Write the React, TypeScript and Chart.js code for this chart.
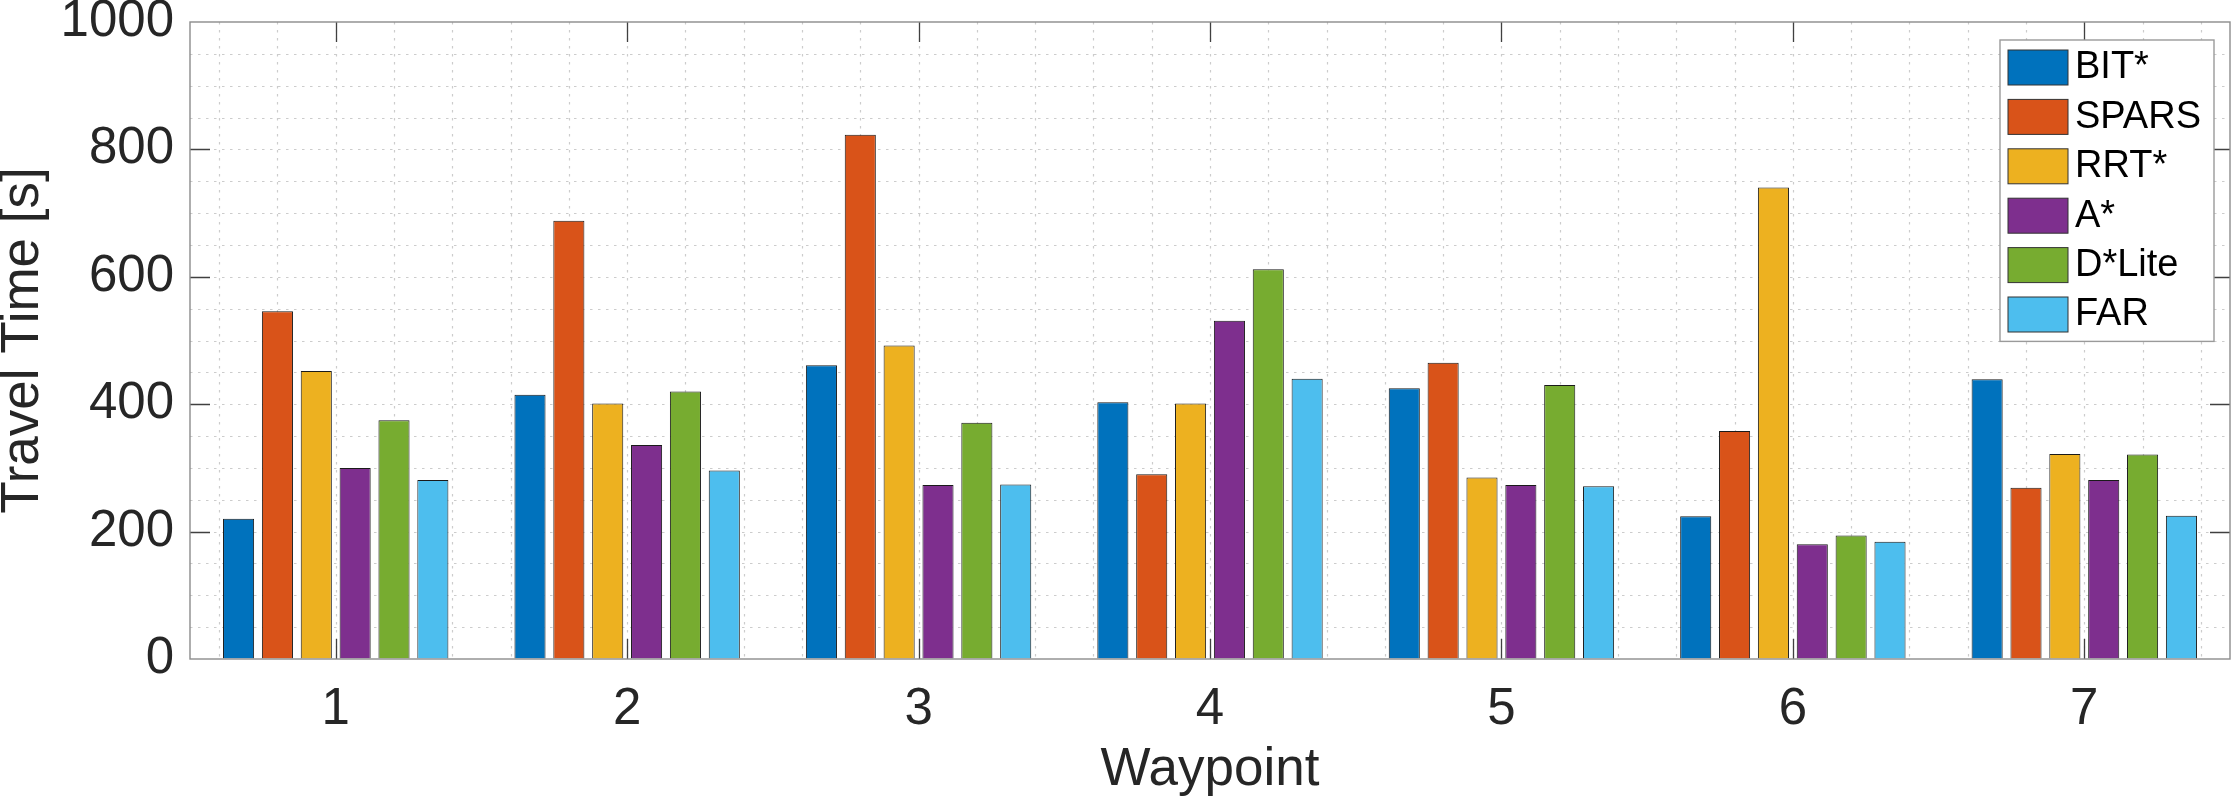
import { useEffect, useRef } from "react";
import { Chart, registerables } from "chart.js";

Chart.register(...registerables);

const waypoints = ["1", "2", "3", "4", "5", "6", "7"];
const bitStar = [220, 415, 461, 403, 425, 224, 439];
const spars = [546, 688, 823, 290, 465, 358, 269];
const rrtStar = [452, 401, 492, 401, 285, 740, 322];
const aStar = [300, 336, 273, 531, 273, 180, 281];
const dStarLite = [375, 420, 371, 612, 430, 194, 321];
const far = [281, 296, 274, 440, 271, 184, 225];

const yTicks = [0, 200, 400, 600, 800, 1000];
const yMinorStep = 50;
const xMinorStep = 0.2;

const FONT = '"Liberation Sans", Arial, Helvetica, sans-serif';
const TEXT = "#262626";

// MATLAB-style box, inward ticks, dotted minor grid and inset legend
const matlabAxes = {
  id: "matlabAxes",
  beforeDatasetsDraw(chart: any) {
    const { ctx, chartArea: a, scales } = chart;
    const x = scales.x;
    const y = scales.y;
    const step = x.getPixelForValue(1) - x.getPixelForValue(0);
    const xAt = (v: number) => x.getPixelForValue(0) + (v - 1) * step;
    ctx.save();
    ctx.strokeStyle = "#cccccc";
    ctx.lineWidth = 1.2;
    ctx.setLineDash([2.5, 5.5]);
    ctx.beginPath();
    for (let v = yMinorStep; v < y.max; v += yMinorStep) {
      const py = Math.round(y.getPixelForValue(v)) + 0.5;
      ctx.moveTo(a.left, py);
      ctx.lineTo(a.right, py);
    }
    const lo = 0.5;
    const hi = waypoints.length + 0.5;
    for (let k = Math.ceil(lo / xMinorStep + 1e-6); k * xMinorStep < hi - 1e-6; k++) {
      const px = Math.round(xAt(k * xMinorStep)) + 0.5;
      ctx.moveTo(px, a.top);
      ctx.lineTo(px, a.bottom);
    }
    ctx.stroke();
    ctx.restore();
  },
  afterDatasetsDraw(chart: any) {
    const { ctx, chartArea: a, scales } = chart;
    const x = scales.x;
    const y = scales.y;
    const tick = 20;
    ctx.save();
    ctx.setLineDash([]);
    ctx.strokeStyle = "#404040";
    ctx.lineWidth = 1.3;
    ctx.beginPath();
    yTicks.forEach((v) => {
      if (v <= y.min || v >= y.max) return;
      const py = Math.round(y.getPixelForValue(v)) + 0.5;
      ctx.moveTo(a.left, py);
      ctx.lineTo(a.left + tick, py);
      ctx.moveTo(a.right, py);
      ctx.lineTo(a.right - tick, py);
    });
    waypoints.forEach((_, i) => {
      const px = Math.round(x.getPixelForValue(i)) + 0.5;
      ctx.moveTo(px, a.bottom);
      ctx.lineTo(px, a.bottom - tick);
      ctx.moveTo(px, a.top);
      ctx.lineTo(px, a.top + tick);
    });
    ctx.stroke();
    ctx.strokeStyle = "#8c8c8c";
    ctx.lineWidth = 1.4;
    ctx.strokeRect(a.left, a.top, a.right - a.left, a.bottom - a.top);
    ctx.restore();
  },
  afterDraw(chart: any) {
    const { ctx, chartArea: a } = chart;
    const sets = chart.data.datasets;
    const left = a.right - 230;
    const top = a.top + 18;
    const w = 214;
    const rowH = 49.4;
    const h = sets.length * rowH + 5;
    ctx.save();
    ctx.fillStyle = "#ffffff";
    ctx.fillRect(left, top, w, h);
    ctx.strokeStyle = "#9a9a9a";
    ctx.lineWidth = 1.4;
    ctx.strokeRect(left, top, w, h);
    ctx.font = `38px ${FONT}`;
    ctx.textBaseline = "middle";
    ctx.textAlign = "left";
    sets.forEach((ds: any, i: number) => {
      const sy = top + 10 + i * rowH;
      ctx.fillStyle = ds.backgroundColor;
      ctx.fillRect(left + 8, sy, 60, 35);
      ctx.strokeStyle = "#333333";
      ctx.lineWidth = 1;
      ctx.strokeRect(left + 8, sy, 60, 35);
      ctx.fillStyle = "#000000";
      ctx.fillText(ds.label, left + 75, sy + 18);
    });
    ctx.restore();
  },
};

export default function App() {
  const chartRef = useRef<HTMLCanvasElement>(null);
  const chartInstance = useRef<Chart | null>(null);

  useEffect(() => {
    document.body.style.margin = "0";
    if (!chartRef.current) return;
    const ctx = chartRef.current.getContext("2d");
    if (!ctx) return;
    if (chartInstance.current) chartInstance.current.destroy();

    const series = [
      { label: "BIT*", data: bitStar, color: "#0072BD" },
      { label: "SPARS", data: spars, color: "#D95319" },
      { label: "RRT*", data: rrtStar, color: "#EDB120" },
      { label: "A*", data: aStar, color: "#7E2F8E" },
      { label: "D*Lite", data: dStarLite, color: "#77AC30" },
      { label: "FAR", data: far, color: "#4DBEEE" },
    ];

    chartInstance.current = new Chart(ctx, {
      type: "bar",
      data: {
        labels: waypoints,
        datasets: series.map((s) => ({
          label: s.label,
          data: s.data,
          backgroundColor: s.color,
          borderColor: "#1a1a1a",
          borderWidth: 1,
          categoryPercentage: 0.8,
          barPercentage: 0.8,
        })),
      },
      options: {
        responsive: true,
        maintainAspectRatio: false,
        animation: false,
        devicePixelRatio: 1,
        layout: { padding: { top: 22, right: 10, left: 0, bottom: 0 } },
        plugins: {
          legend: { display: false },
          tooltip: { enabled: false },
        },
        scales: {
          x: {
            offset: true,
            grid: { display: false },
            border: { display: false },
            ticks: {
              color: TEXT,
              padding: 12,
              font: { family: FONT, size: 51, lineHeight: 1.2 },
            },
            title: {
              display: true,
              text: "Waypoint",
              color: TEXT,
              padding: 0,
              font: { family: FONT, size: 53, lineHeight: 1.13 },
            },
            afterFit: (scale: any) => {
              scale.height = 141;
            },
          },
          y: {
            min: 0,
            max: 1000,
            grid: {
              display: true,
              drawOnChartArea: false,
              drawTicks: true,
              tickLength: 16,
              color: "transparent",
              tickColor: "transparent",
            },
            border: { display: false },
            afterBuildTicks: (scale: any) => {
              scale.ticks = yTicks.map((v) => ({ value: v }));
            },
            ticks: {
              color: TEXT,
              padding: 0,
              font: { family: FONT, size: 51, lineHeight: 0.8 },
              callback: (value: any) => String(value),
            },
            title: {
              display: true,
              text: "Travel Time [s]",
              color: TEXT,
              padding: 0,
              font: { family: FONT, size: 53, lineHeight: 0.9 },
            },
            afterFit: (scale: any) => {
              scale.width = 190;
            },
          },
        },
      },
      plugins: [matlabAxes],
    });

    return () => {
      if (chartInstance.current) {
        chartInstance.current.destroy();
        chartInstance.current = null;
      }
    };
  }, []);

  return (
    <div style={{ position: "relative", width: 2240, height: 800 }}>
      <canvas ref={chartRef}></canvas>
    </div>
  );
}
